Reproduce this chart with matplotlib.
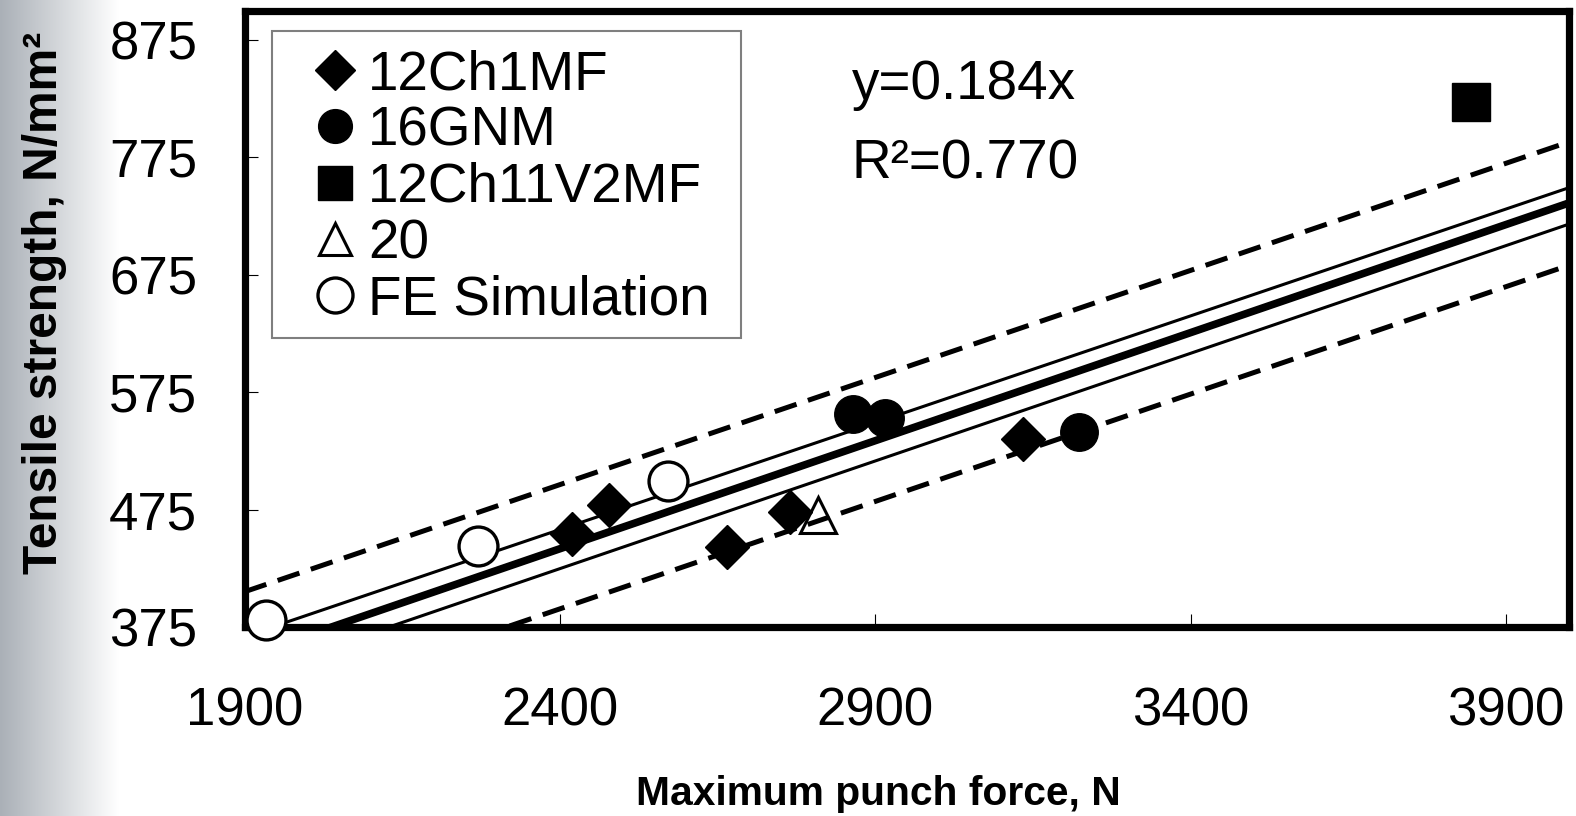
import numpy as np
import matplotlib
matplotlib.use("Agg")
import matplotlib.pyplot as plt
from matplotlib.colors import LinearSegmentedColormap
from matplotlib.patches import Rectangle

# points
ch1mf_x = [2420, 2478, 2665, 2765, 3134]
ch1mf_y = [454, 479, 443, 473, 535]
gnm_x = [2865, 2915, 3223]
gnm_y = [556, 553, 541]
v2mf_x = [3845]
v2mf_y = [822]
st20_x = [2809]
st20_y = [470]
fe_x = [1934, 2271, 2572]
fe_y = [381, 444, 499]

# regression through origin and the band lines (end values read at x=1900 / 4000)
fit_slope = 0.184
band_x = [1900, 4000]
conf_upper = [367, 749]
conf_lower = [333, 718]
pred_upper = [405, 788]
pred_lower = [299, 683]

x_ticks = [1900, 2400, 2900, 3400, 3900]
y_ticks = [375, 475, 575, 675, 775, 875]

plt.rcParams["font.family"] = ["Liberation Sans", "DejaVu Sans"]

fig = plt.figure(figsize=(15.76, 8.16), dpi=100)

# faded photo strip at the left of the slide
bg = fig.add_axes([0, 0, 0.075, 1], zorder=-5)
bg.imshow(np.linspace(0, 1, 256)[None, :], aspect="auto", extent=[0, 1, 0, 1],
          cmap=LinearSegmentedColormap.from_list("strip", ["#aab0b7", "#ffffff"]))
bg.axis("off")

ax = fig.add_axes([0.15514, 0.23162, 0.84042, 0.75429])

bx = np.array(band_x)
ax.plot(bx, pred_upper, color="black", lw=3.6, dashes=(4.6, 2.4), zorder=2)
ax.plot(bx, pred_lower, color="black", lw=3.6, dashes=(4.6, 2.4), zorder=2)
ax.plot(bx, conf_upper, color="black", lw=2.2, zorder=2)
ax.plot(bx, conf_lower, color="black", lw=2.2, zorder=2)
ax.plot(bx, fit_slope * bx, color="black", lw=5.5, zorder=2)

mk = dict(linestyle="none", color="black", clip_on=False, zorder=5)
ax.plot(ch1mf_x, ch1mf_y, marker="D", ms=22.5, label="12Ch1MF", **mk)
ax.plot(gnm_x, gnm_y, marker="o", ms=27, label="16GNM", **mk)
ax.plot(v2mf_x, v2mf_y, marker="s", ms=27, label="12Ch11V2MF", **mk)
ax.plot(st20_x, st20_y, marker="^", ms=26, mfc="none", mew=2.2, label="20", **mk)
ax.plot(fe_x, fe_y, marker="o", ms=28, mfc="white", mew=2.4, label="FE Simulation", **mk)

ax.set_xlim(1900, 4000)
ax.set_ylim(375, 899)
ax.set_xticks(x_ticks)
ax.set_yticks(y_ticks)
ax.tick_params(direction="in", length=9.5, width=0.8, labelsize=38)
ax.tick_params(axis="x", pad=43)
ax.tick_params(axis="y", pad=34)
for sp in ax.spines.values():
    sp.set_linewidth(5.2)

ax.set_xlabel("Maximum punch force, N", fontsize=29.3, fontweight="bold")
ax.xaxis.set_label_coords(0.4785, -0.241)
ax.set_ylabel("Tensile strength, N/mm²", fontsize=34.5, fontweight="bold")
ax.yaxis.set_label_coords(-0.134, 0.527)

ax.text(2863, 836, "y=0.184x", fontsize=39.5, va="center")
ax.text(2863, 769, "R²=0.770", fontsize=39.5, va="center")

# legend box drawn separately so its padding can follow the reference
ax.add_patch(Rectangle((0.02076, 0.4695), 0.35414, 0.4988, transform=ax.transAxes,
                       facecolor="white", edgecolor="#7f7f7f", lw=1.5, zorder=6))
leg = ax.legend(loc="upper left", bbox_to_anchor=(0.0476, 0.939), borderaxespad=0,
                borderpad=0, frameon=False, fontsize=39.5, handlelength=1.0,
                handletextpad=0.1, labelspacing=0.08, numpoints=1, markerscale=0.9)
leg.set_zorder(7)

fig.savefig("out.png", dpi=100)
